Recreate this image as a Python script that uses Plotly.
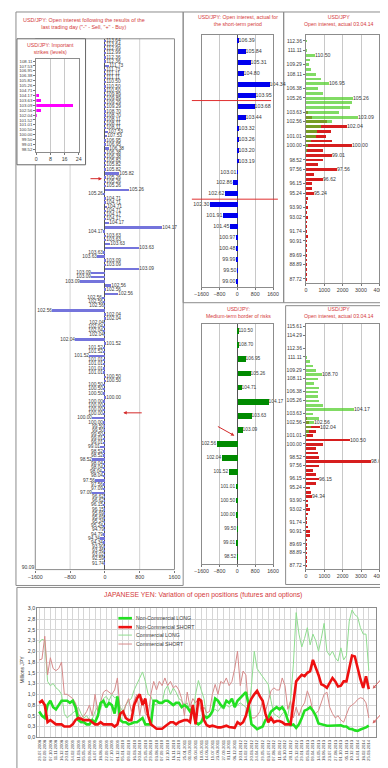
import plotly.graph_objects as go

W, H = 388, 768
FONT = "Liberation Sans, Arial, sans-serif"
TITLE_RED = "#d43a3a"
TXT = "#3a3a3a"
GRID = "#c8c8c8"
FRAME = "#8c8c8c"

# ---------------- DATA ----------------
# Main panel: open interest after the last trading day (rows top -> bottom)
MAIN_STRIKES = [
    "113.64", "113.64", "112.99", "112.99", "112.36", "112.36", "111.73", "111.73", "111.11", "111.11",
    "110.50", "110.50", "110.50", "109.89", "109.89", "109.29", "109.29", "108.70", "108.70", "108.11",
    "108.11", "108.11", "107.53", "107.53", "106.95", "106.95", "106.38", "106.38", "106.38", "105.82",
    "105.82", "105.82", "105.82",
    "105.26", "105.26", "105.26", "105.26", "105.26",
    "104.71", "104.71", "104.71", "104.71",
    "104.17", "104.17", "104.17", "104.17", "104.17",
    "103.63", "103.63", "103.63", "103.63", "103.63", "103.63",
    "103.09", "103.09", "103.09", "103.09", "103.09", "103.09",
    "102.56", "102.56", "102.56", "102.56", "102.56", "102.56", "102.56",
    "102.04", "102.04", "102.04", "102.04", "102.04", "102.04", "102.04",
    "101.52", "101.52", "101.52", "101.52",
    "101.01", "101.01", "101.01", "101.01",
    "100.50", "100.50", "100.50", "100.50", "100.50",
    "100.00", "100.00", "100.00", "100.00", "100.00", "100.00", "100.00",
    "99.50", "99.50", "99.50",
    "99.01", "99.01", "99.01",
    "98.52", "98.52", "98.52",
    "98.04", "98.04", "98.04", "98.04",
    "97.56", "97.56", "97.09", "97.09", "96.62", "96.62", "96.15", "96.15",
    "95.69", "95.69", "95.24", "95.24", "94.79", "94.79", "94.34", "94.34",
    "93.90", "93.46", "93.02", "92.59", "91.74", "90.09"]
MAIN_OI = [
    10, 10, 15, 10, 20, 10, 90, 15, 20, 10,
    15, 20, 10, 15, 10, 20, 10, 15, 30, 10,
    15, 10, 80, 60, 15, 10, 90, 15, 10, 15,
    10, 20, 330,
    15, 10, 20, 570, -20,
    15, 10, 60, 15,
    10, 20, 90, 1330, -20,
    15, 10, 130, 780, -20, -180,
    20, 30, 780, -310, -310, -560,
    150, 20, 310, -60, -20, -10, -1220,
    10, 10, -10, -20, -20, -10, -670,
    10, -20, -20, -360,
    -20, -20, -30, -20,
    10, 10, -20, -30, -40,
    10, -20, -20, -30, -20, -290, -20,
    -10, -10, -20,
    -20, -20, -110,
    -20, -20, -290,
    -20, -40, -50, -20,
    -220, -20, -20, -290, -10, -10, -30, -10,
    -10, -10, -10, -40, -10, -40, -100, -40,
    -10, -10, -10, -10, -10, 0]

# Inset: important strikes (levels)
INSET_LEVELS = ["108.11", "107.53", "106.95", "106.38", "105.82", "105.26", "104.71", "104.17",
                "103.63", "103.09", "102.56", "102.04", "101.52", "101.01", "100.50", "100.00",
                "99.50", "99.01", "98.52"]
INSET_COUNT = [0, 0, 0, 0, 0, 0, 0, 1.5, 3, 21, 3, 0.5, 0, 0, 0, 0, 0, 0, 0]

# Short-term period panel
TM_LEVELS = ["106.39", "105.84", "105.31", "104.80", "104.34", "103.95", "103.68", "103.44",
             "103.32", "103.26", "103.20", "103.19", "103.01", "102.86", "102.62", "102.30",
             "101.91", "101.45", "100.97", "100.48", "99.99", "99.50", "99.00"]
TM_OI = [20, 350, 600, 260, 1430, 820, 780, 350, 20, 20, 20, 20,
         -20, -215, -580, -1250, -680, -360, -100, -100, -60, -30, -60]

# Medium-term border of risks panel
BM_LEVELS = ["110.50", "108.70", "106.95", "105.26", "104.71", "104.17", "103.63", "103.09",
             "102.56", "102.04", "101.52", "101.01", "100.50", "100.00", "99.50", "99.01", "98.52"]
BM_OI = [20, 20, 350, 600, 200, 1400, 620, 220, -950, -720, -390, -100, -100, -80, -30, -100, -20]

# Open interest 03.04.14 panels (strikes)
TR_STRIKES = ["112.36", "111.73", "111.11", "110.50", "109.89", "109.29", "108.70", "108.11",
              "107.53", "106.95", "106.38", "105.82", "105.26", "104.71", "104.17", "103.63",
              "103.09", "102.56", "102.04", "101.52", "101.01", "100.50", "100.00", "99.50",
              "99.01", "98.52", "98.04", "97.56", "97.09", "96.62", "96.15", "95.69", "95.24",
              "94.79", "94.34", "93.90", "93.46", "93.02", "92.59", "92.17", "91.74", "91.32",
              "90.91", "90.50", "90.09", "89.69", "89.29", "88.89", "88.50", "88.11", "87.72"]
TR_CALLS = [30, 0, 40, 500, 200, 180, 250, 560, 830, 1260, 670, 950, 2540, 2490, 2400, 1790,
            2840, 1440, 830, 600, 560, 250, 100, 50, 20, 0, 0, 0, 0, 0, 0, 0, 0,
            0, 0, 0, 0, 0, 0, 0, 0, 0, 0, 0, 0, 0, 0, 0, 0, 0, 0]
TR_PUTS = [0, 0, 0, 0, 0, 0, 0, 0, 0, 0, 0, 0, 0, 0, 0, 100,
           300, 1150, 2250, 1350, 1100, 1400, 2500, 900, 1440, 900, 650, 1700, 460, 900, 350, 300, 460,
           120, 40, 80, 40, 60, 30, 50, 30, 60, 20, 40, 20, 30, 20, 30, 10, 20, 10]
TR_TICKS = ["112.36", "111.11", "109.29", "108.11", "106.38", "105.26", "103.63", "102.56",
            "101.01", "100.00", "98.52", "97.56", "96.15", "95.24", "93.90", "93.02", "91.74",
            "90.91", "89.69", "88.89", "87.72"]
TR_CALL_LABELED = ["110.50", "106.95", "105.26", "103.09"]
TR_PUT_LABELED = ["102.04", "100.00", "99.01", "97.56", "96.62", "95.24"]

BR_STRIKES = ["115.61", "114.94", "114.29", "113.64", "112.99"] + TR_STRIKES
BR_CALLS = [20, 0, 20, 0, 10, 20, 10, 30, 200, 400, 550, 880, 640, 460, 700, 650, 650, 700,
            900, 2600, 400, 700, 450, 250, 150, 50, 0, 0, 0, 0, 0, 0, 0, 0, 0, 0, 0, 0, 0, 0,
            0, 0, 0, 0, 0, 0, 0, 0, 0, 0, 0, 0, 0, 0, 0, 0]
BR_PUTS = [0, 0, 0, 0, 0, 0, 0, 0, 0, 0, 0, 0, 0, 0, 0, 0, 0, 0, 0, 0, 0, 50,
           150, 770, 560, 390, 2370, 900, 560, 650, 730, 3550, 700, 390, 560, 730, 560, 210,
           260, 330, 70, 90, 210, 90, 40, 20, 120, 210, 200, 50, 20, 20, 10, 10, 10, 10]
BR_TICKS = ["115.61", "114.29", "112.36", "111.11", "109.29", "108.11", "106.38", "105.26",
            "103.63", "102.56", "101.01", "100.00", "98.52", "97.56", "96.15", "95.24", "93.90",
            "93.02", "91.74", "90.91", "89.69", "88.89", "87.72"]
BR_CALL_LABELED = ["108.70", "104.17", "102.56"]
BR_PUT_LABELED = ["102.04", "100.50", "98.04", "96.15", "94.34"]

# Bottom chart: variation of open positions (million JPY), sampled every 2.5 weeks
DATES = ["29.07.2008", "02.09.2008", "07.10.2008", "11.11.2008", "16.12.2008", "20.01.2009",
         "24.02.2009", "31.03.2009", "05.05.2009", "09.06.2009", "14.07.2009", "18.08.2009",
         "22.09.2009", "27.10.2009", "01.12.2009", "05.01.2010", "09.02.2010", "16.03.2010",
         "20.04.2010", "25.05.2010", "29.06.2010", "03.08.2010", "07.09.2010", "12.10.2010",
         "16.11.2010", "21.12.2010", "25.01.2011", "01.03.2011", "05.04.2011", "10.05.2011",
         "14.06.2011", "19.07.2011", "23.08.2011", "27.09.2011", "01.11.2011", "06.12.2011",
         "10.01.2012", "14.02.2012", "20.03.2012", "24.04.2012", "29.05.2012", "03.07.2012",
         "07.08.2012", "11.09.2012", "16.10.2012", "20.11.2012", "25.12.2012", "29.01.2013",
         "05.03.2013", "09.04.2013", "14.05.2013", "18.06.2013", "23.07.2013", "27.08.2013",
         "01.10.2013", "05.11.2013", "10.12.2013", "14.01.2014", "18.02.2014", "25.03.2014"]
C_LONG = [2.20, 2.28, 2.25, 1.30, 1.20, 1.25, 1.15, 1.10, 1.00, 0.55,
          0.45, 0.50, 0.55, 0.62, 0.70, 0.55, 0.45, 0.50, 0.40, 0.42,
          0.60, 0.72, 0.65, 0.90, 0.95, 0.85, 1.00, 0.92, 0.95, 0.70,
          0.60, 0.75, 0.85, 0.90, 1.10, 1.25, 1.40, 1.52, 1.30, 1.00,
          0.95, 0.78, 0.75, 0.82, 0.80, 1.10, 1.20, 1.00, 1.15, 1.05,
          0.90, 0.85, 0.75, 0.80, 0.60, 0.55, 1.00, 1.32, 1.10, 0.90,
          0.45, 0.50, 0.60, 0.65, 0.60, 0.70, 0.65, 0.75, 0.70, 0.75,
          0.70, 0.75, 0.80, 0.75, 0.70, 0.60, 1.20, 2.00, 1.60, 1.50,
          1.40, 1.30, 1.23, 0.85, 0.55, 0.50, 0.45, 0.55, 0.60, 0.50,
          0.85, 1.70, 2.90, 2.40, 2.10, 2.30, 2.55, 2.15, 2.40, 2.25,
          2.00, 2.30, 2.65, 2.00, 1.90, 2.00, 1.85, 1.77, 2.08, 1.80,
          1.90, 2.70, 2.96, 2.85, 2.80, 2.55, 2.40, 2.40, 1.55]
C_SHORT = [1.80, 1.82, 2.35, 1.45, 1.85, 1.60, 1.55, 1.60, 1.75, 1.00,
           1.00, 0.95, 0.90, 0.80, 0.55, 0.45, 0.50, 0.60, 0.75, 0.50,
           1.00, 0.60, 0.80, 1.05, 1.10, 1.05, 1.00, 1.10, 1.38, 0.60,
           0.50, 0.75, 0.90, 0.60, 0.85, 1.00, 0.50, 0.90, 0.55, 0.50,
           1.00, 1.30, 1.10, 1.30, 1.20, 1.38, 1.20, 1.30, 1.15, 1.20,
           1.10, 0.90, 0.50, 1.05, 0.70, 0.90, 0.80, 0.90, 0.60, 0.70,
           0.57, 0.60, 1.00, 1.23, 1.00, 1.30, 1.25, 1.38, 1.20, 1.30,
           1.60, 2.00, 1.20, 1.54, 1.45, 0.65, 0.45, 0.45, 0.50, 0.60,
           0.85, 0.60, 0.85, 1.08, 1.15, 1.10, 1.10, 1.38, 1.20, 0.65,
           0.85, 0.45, 0.70, 0.50, 0.70, 0.80, 1.08, 0.90, 0.60, 0.55,
           0.62, 0.80, 1.00, 1.05, 0.70, 0.55, 0.45, 0.50, 0.40, 0.35,
           0.55, 0.70, 0.75, 0.80, 0.88, 0.92, 0.90, 0.80, 0.45]
NC_LONG = [0.60, 0.50, 0.45, 0.75, 0.85, 0.70, 0.65, 0.75, 0.85, 0.85,
           0.85, 0.80, 0.85, 0.70, 0.40, 0.35, 0.35, 0.30, 0.30, 0.40,
           0.35, 0.50, 0.80, 0.85, 0.70, 0.80, 0.75, 0.55, 0.95, 0.40,
           0.35, 0.35, 0.30, 0.32, 0.35, 0.35, 0.40, 0.45, 0.30, 0.30,
           0.30, 0.85, 0.85, 0.80, 0.80, 0.85, 0.85, 0.80, 0.75, 0.80,
           0.80, 0.70, 0.75, 0.70, 0.60, 0.70, 0.35, 0.30, 0.35, 0.50,
           0.45, 0.50, 0.60, 0.90, 0.85, 0.75, 0.70, 0.85, 0.80, 0.90,
           0.70, 0.85, 0.92, 1.00, 1.05, 0.75, 0.30, 0.25, 0.19, 0.22,
           0.25, 0.40, 0.45, 0.60, 0.65, 0.70, 0.65, 0.70, 0.60, 0.40,
           0.28, 0.30, 0.22, 0.30, 0.45, 0.62, 0.65, 0.70, 0.62, 0.50,
           0.32, 0.30, 0.28, 0.27, 0.27, 0.27, 0.28, 0.27, 0.28, 0.25,
           0.25, 0.20, 0.19, 0.16, 0.15, 0.18, 0.20, 0.23, 0.27]
NC_SHORT = [0.80, 0.85, 0.75, 0.35, 0.40, 0.35, 0.30, 0.30, 0.30, 0.25,
            0.25, 0.25, 0.30, 0.40, 0.45, 0.42, 0.40, 0.40, 0.40, 0.35,
            0.30, 0.30, 0.35, 0.30, 0.30, 0.30, 0.30, 0.25, 0.30, 0.55,
            0.60, 0.45, 0.40, 0.40, 0.75, 0.90, 1.00, 0.75, 0.90, 0.50,
            0.30, 0.25, 0.20, 0.20, 0.20, 0.25, 0.30, 0.35, 0.35, 0.30,
            0.35, 0.38, 0.40, 0.40, 0.35, 0.75, 0.30, 0.90, 0.85, 0.40,
            0.28, 0.25, 0.27, 0.25, 0.23, 0.23, 0.25, 0.27, 0.24, 0.23,
            0.22, 0.35, 0.30, 0.35, 0.50, 0.75, 0.90, 1.00, 1.08, 0.95,
            0.85, 0.55, 0.35, 0.45, 0.35, 0.38, 0.38, 0.35, 0.30, 0.30,
            0.30, 0.80, 1.30, 1.38, 1.45, 1.42, 1.50, 1.54, 1.80, 1.62,
            1.45, 1.23, 1.20, 1.15, 1.25, 1.38, 1.30, 1.18, 1.20, 1.30,
            1.30, 1.62, 1.90, 1.88, 1.60, 1.35, 1.15, 1.42, 1.12]
Y_TICK_VALS = [0, 0.25, 0.5, 0.75, 1.0, 1.25, 1.5, 1.75, 2.0, 2.25, 2.5, 2.75, 3.0]
Y_TICK_TEXT = ["0,0", "0,3", "0,5", "0,8", "1,0", "1,3", "1,5", "1,8", "2,0", "2,3", "2,5", "2,8", "3,0"]


# ---------------- helpers (pixel -> paper) ----------------
def px_x(a):
    return a / W


def px_y(b):
    return 1 - b / H


def dom_x(a, b):
    return [a / W, b / W]


def dom_y(top, bottom):
    return [1 - bottom / H, 1 - top / H]


def tf(size, color=TXT):
    return dict(size=size, color=color, family=FONT)


fig = go.Figure()

# ---- main panel bars ----
main_text = MAIN_STRIKES[:-1] + [""]
fig.add_trace(go.Bar(
    x=MAIN_OI, y=list(range(len(MAIN_OI))), orientation="h", width=0.45,
    marker=dict(color="#7474dc", line=dict(width=0)),
    text=main_text, textposition="outside", constraintext="none", cliponaxis=False,
    textfont=tf(4.8), xaxis="x", yaxis="y", hoverinfo="skip", showlegend=False))

# ---- inset ----
fig.add_trace(go.Bar(
    x=INSET_COUNT, y=list(range(len(INSET_COUNT))), orientation="h", width=0.55,
    marker=dict(color="#ff00ff", line=dict(width=0)),
    xaxis="x2", yaxis="y2", hoverinfo="skip", showlegend=False))

# ---- short-term panel ----
fig.add_trace(go.Bar(
    x=TM_OI, y=list(range(len(TM_OI))), orientation="h", width=0.45,
    marker=dict(color="#0000ee", line=dict(width=0)),
    text=TM_LEVELS, textposition="outside", constraintext="none", cliponaxis=False,
    textfont=tf(5.3), xaxis="x3", yaxis="y3", hoverinfo="skip", showlegend=False))

# ---- top-right: open interest 03.04.14 ----
fig.add_trace(go.Bar(
    x=TR_PUTS, y=list(range(len(TR_PUTS))), orientation="h", width=0.6,
    marker=dict(color="rgb(214,30,30)", line=dict(width=0)),
    text=[s if s in TR_PUT_LABELED else "" for s in TR_STRIKES],
    textposition="outside", constraintext="none", cliponaxis=False,
    textfont=tf(5.2), xaxis="x4", yaxis="y4", hoverinfo="skip", showlegend=False))
fig.add_trace(go.Bar(
    x=TR_CALLS, y=list(range(len(TR_CALLS))), orientation="h", width=0.6,
    marker=dict(color="rgba(80,205,40,0.72)", line=dict(width=0)),
    text=[s if s in TR_CALL_LABELED else "" for s in TR_STRIKES],
    textposition="outside", constraintext="none", cliponaxis=False,
    textfont=tf(5.2), xaxis="x4", yaxis="y4", hoverinfo="skip", showlegend=False))

# ---- medium-term border of risks ----
fig.add_trace(go.Bar(
    x=BM_OI, y=list(range(len(BM_OI))), orientation="h", width=0.4,
    marker=dict(color="#008a00", line=dict(width=0)),
    text=BM_LEVELS, textposition="outside", constraintext="none", cliponaxis=False,
    textfont=tf(4.8), xaxis="x5", yaxis="y5", hoverinfo="skip", showlegend=False))

# ---- bottom-right: open interest 03.04.14 ----
fig.add_trace(go.Bar(
    x=BR_PUTS, y=list(range(len(BR_PUTS))), orientation="h", width=0.6,
    marker=dict(color="rgb(214,30,30)", line=dict(width=0)),
    text=[s if s in BR_PUT_LABELED else "" for s in BR_STRIKES],
    textposition="outside", constraintext="none", cliponaxis=False,
    textfont=tf(5.2), xaxis="x6", yaxis="y6", hoverinfo="skip", showlegend=False))
fig.add_trace(go.Bar(
    x=BR_CALLS, y=list(range(len(BR_CALLS))), orientation="h", width=0.6,
    marker=dict(color="rgba(80,205,40,0.72)", line=dict(width=0)),
    text=[s if s in BR_CALL_LABELED else "" for s in BR_STRIKES],
    textposition="outside", constraintext="none", cliponaxis=False,
    textfont=tf(5.2), xaxis="x6", yaxis="y6", hoverinfo="skip", showlegend=False))

# ---- bottom line chart ----
SERIES = [
    ("Non-Commercial LONG", NC_LONG, "#22e022", 2.6),
    ("Non-Commercial SHORT", NC_SHORT, "#ee1010", 2.6),
    ("Commercial LONG", C_LONG, "#8fdc8f", 1.0),
    ("Commercial SHORT", C_SHORT, "#d68a8a", 1.0),
]
xs = list(range(len(NC_LONG)))
for name, vals, col, wdt in [SERIES[2], SERIES[3], SERIES[0], SERIES[1]]:
    fig.add_trace(go.Scatter(
        x=xs, y=vals, mode="lines", name=name, line=dict(color=col, width=wdt),
        xaxis="x7", yaxis="y7", hoverinfo="skip", showlegend=False))

# ---------------- axes ----------------
def bar_x(domain, rng, tickvals, anchor, grid=True, zero=True, line=True):
    return dict(domain=domain, range=rng, tickvals=tickvals, anchor=anchor,
                showgrid=grid, gridcolor=GRID, gridwidth=0.8,
                zeroline=zero, zerolinecolor="#555555", zerolinewidth=1,
                showline=line, mirror=line, linecolor=FRAME, linewidth=1,
                ticks="outside", ticklen=2, tickcolor="#777777",
                tickfont=tf(5.3), fixedrange=True)


def bar_y(domain, rng, anchor, tickvals=None, ticktext=None, size=5.0, line=True):
    d = dict(domain=domain, range=rng, anchor=anchor, showgrid=False, zeroline=False,
             showline=line, mirror=line, linecolor=FRAME, linewidth=1, fixedrange=True)
    if tickvals is None:
        d.update(showticklabels=False, ticks="")
    else:
        d.update(tickvals=tickvals, ticktext=ticktext, tickfont=tf(size),
                 ticks="outside", ticklen=2, tickcolor="#777777")
    return d


N_MAIN = len(MAIN_OI)
layout_axes = dict(
    xaxis=bar_x(dom_x(21, 165), [-1600, 1600], [-1600, -800, 0, 800, 1600], "y",
                grid=False, line=False),
    yaxis=dict(domain=dom_y(28, 563), range=[N_MAIN - 0.5, -0.5], anchor="x",
               showgrid=False, zeroline=False, showline=False, tickvals=[N_MAIN - 1],
               ticktext=[MAIN_STRIKES[-1]], tickfont=tf(5), ticks="", fixedrange=True),
    xaxis2=bar_x(dom_x(22, 66), [0, 24], [0, 8, 16, 24], "y2", zero=False),
    yaxis2=bar_y(dom_y(48, 142), [len(INSET_LEVELS) - 0.5, -0.5], "x2",
                 list(range(len(INSET_LEVELS))), INSET_LEVELS, size=4.3),
    xaxis3=bar_x(dom_x(193, 267), [-1600, 1600], [-1600, -800, 0, 800, 1600], "y3"),
    yaxis3=bar_y(dom_y(24, 278), [len(TM_OI) - 0.5, -0.5], "x3"),
    xaxis4=bar_x(dom_x(301, 377), [0, 4000], [0, 1000, 2000, 3000, 4000], "y4", zero=False),
    yaxis4=bar_y(dom_y(24, 274), [50.83, -1.25], "x4",
                 [TR_STRIKES.index(t) for t in TR_TICKS], TR_TICKS, size=5.0),
    xaxis5=bar_x(dom_x(193, 267), [-1600, 1600], [-1600, -800, 0, 800, 1600], "y5"),
    yaxis5=bar_y(dom_y(315, 557), [len(BM_OI) - 0.5, -0.5], "x5"),
    xaxis6=bar_x(dom_x(301, 377), [0, 4000], [0, 1000, 2000, 3000, 4000], "y6", zero=False),
    yaxis6=bar_y(dom_y(315, 562), [55.68, -0.68], "x6",
                 [BR_STRIKES.index(t) for t in BR_TICKS], BR_TICKS, size=5.0),
    xaxis7=dict(domain=dom_x(23, 373), range=[-0.7, 120.4], anchor="y7",
                tickvals=list(range(0, len(NC_LONG), 2)), ticktext=DATES, tickangle=-90,
                tickfont=tf(4.2), showgrid=True, gridcolor="#d6d6d6", gridwidth=0.8,
                zeroline=False, showline=True, mirror=True, linecolor=FRAME, ticks="",
                fixedrange=True),
    yaxis7=dict(domain=dom_y(602, 732), range=[0, 3.0], anchor="x7",
                tickvals=Y_TICK_VALS, ticktext=Y_TICK_TEXT, tickfont=tf(5.3),
                showgrid=True, gridcolor="#d6d6d6", gridwidth=0.8, zeroline=False,
                showline=True, mirror=True, linecolor=FRAME, ticks="", fixedrange=True),
)

# ---------------- shapes ----------------
shapes = []
# main panel gridlines and frame (below inset box)
shapes.append(dict(type="line", xref="x", yref="paper", x0=-800, x1=-800,
                   y0=px_y(563), y1=px_y(155), line=dict(color=GRID, width=0.8), layer="below"))
shapes.append(dict(type="line", xref="x", yref="paper", x0=800, x1=800,
                   y0=px_y(563), y1=px_y(28), line=dict(color=GRID, width=0.8), layer="below"))
shapes.append(dict(type="rect", xref="paper", yref="paper", x0=px_x(21), x1=px_x(165),
                   y0=px_y(563), y1=px_y(28), line=dict(color=FRAME, width=1), layer="below"))
# inset box
shapes.append(dict(type="rect", xref="paper", yref="paper", x0=px_x(2), x1=px_x(73),
                   y0=px_y(155), y1=px_y(28), fillcolor="white",
                   line=dict(color="#666666", width=1), layer="below"))
# panel frames
def frame(x0, y0, x1, y1):
    shapes.append(dict(type="rect", xref="paper", yref="paper", x0=px_x(x0), x1=px_x(x1),
                       y0=px_y(y1), y1=px_y(y0), line=dict(color=FRAME, width=1), layer="below"))

frame(1, 1, 174, 579)
frame(174, 1, 278, 294)
frame(278, 1, 387, 294)
frame(280, 297, 386, 578)
frame(2, 581, 385, 766)
# red level lines in short-term panel
for lvl, xr in [(5.5, 265), (14.5, 272)]:
    shapes.append(dict(type="line", xref="paper", yref="y3", x0=px_x(183), x1=px_x(xr),
                       y0=lvl, y1=lvl, line=dict(color="#e03030", width=1)))
# manual legend samples
leg_rows = [612, 621, 629, 638]
for (name, vals, col, wdt), ly in zip(SERIES, leg_rows):
    shapes.append(dict(type="line", xref="paper", yref="paper", x0=px_x(107), x1=px_x(121),
                       y0=px_y(ly), y1=px_y(ly), line=dict(color=col, width=wdt)))

# ---------------- annotations ----------------
ann = []
def label(x, y, text, size, color=TITLE_RED, xanchor="center", angle=0):
    ann.append(dict(x=px_x(x), y=px_y(y), xref="paper", yref="paper", text=text,
                    showarrow=False, xanchor=xanchor, yanchor="middle", textangle=angle,
                    font=tf(size, color)))

label(71, 13, "USD/JPY: Open interest following the results of the<br>"
              "last trading day (\"-\" - Sell, \"+\" - Buy)", 5.4)
label(37, 38, "USD/JPY: Important<br>strikes (levels)", 5.2)
label(231, 10, "USD/JPY: Open interest, actual for<br>the short-term period", 5.2)
label(335, 10, "USD/JPY<br>Open interest, actual 03.04.14", 5.2)
label(231, 304, "USD/JPY:<br>Medium-term border of risks", 5.2)
label(335, 304, "USD/JPY<br>Open interest, actual 03.04.14", 5.2)
label(195, 589, "JAPANESE YEN: Variation of open positions (futures and options)", 6.8)
label(7, 664, "Millions JPY", 5, color=TXT, angle=-90)
for (name, vals, col, wdt), ly in zip(SERIES, leg_rows):
    label(123, ly, name, 5.2, color=TXT, xanchor="left")

def arrow(hx, hy, tx, ty, color="#d42a2a"):
    ann.append(dict(x=px_x(hx), y=px_y(hy), xref="paper", yref="paper", text="",
                    showarrow=True, ax=tx - hx, ay=ty - hy, arrowhead=2, arrowsize=0.7,
                    arrowwidth=1, arrowcolor=color))

arrow(90, 169, 77, 169)
arrow(112, 405, 132, 405)
arrow(227, 428, 209, 418)
arrow(370, 683, 381, 671, color="#d46060")
arrow(370, 718, 381, 706, color="#d46060")

fig.update_layout(
    width=W, height=H, margin=dict(l=0, r=0, t=0, b=0),
    paper_bgcolor="white", plot_bgcolor="white", barmode="overlay", bargap=0,
    showlegend=False, font=tf(5.3), shapes=shapes, annotations=ann, **layout_axes)

fig.write_html("out.html")
